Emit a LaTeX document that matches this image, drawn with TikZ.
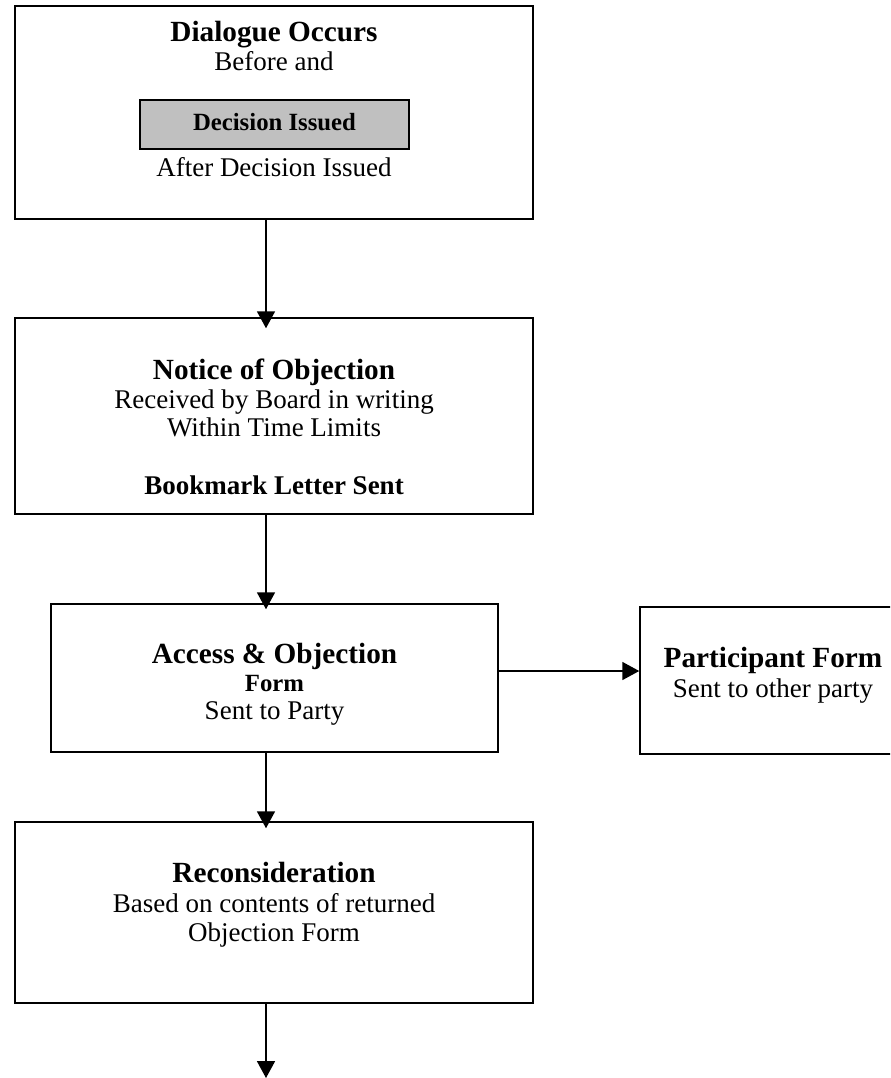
\documentclass[tikz,border=0pt]{standalone}
\usepackage{fontspec}
\setmainfont{Liberation Serif}
\usetikzlibrary{arrows.meta}
\definecolor{boxgray}{HTML}{C0C0C0}
\begin{document}
\begin{tikzpicture}[x=0.4444pt,y=-0.4444pt,
  box/.style={draw,line width=0.7pt,inner sep=0pt},
  head/.style={anchor=base,inner sep=0pt,font=\fontsize{13}{15}\selectfont\bfseries},
  body/.style={anchor=base,inner sep=0pt,font=\fontsize{12}{14}\selectfont},
  small/.style={anchor=base,inner sep=0pt,font=\fontsize{11}{13}\selectfont\bfseries},
  arr/.style={-{Triangle[length=7.5pt,width=8pt]},line width=0.6pt}]
\clip (0,0) rectangle (890,1078);
% boxes
\node[box,minimum width=230.2pt,minimum height=94.7pt] (b1) at (274,112.5) {};
\node[box,fill=boxgray,minimum width=119.6pt,minimum height=21.8pt] (g1) at (274.5,124.5) {};
\node[box,minimum width=230.2pt,minimum height=87.1pt] (b2) at (274,416) {};
\node[box,minimum width=198.7pt,minimum height=65.8pt] (b3) at (274.5,678) {};
\node[box,minimum width=118.2pt,minimum height=65.3pt] (b4) at (773,680.5) {};
\node[box,minimum width=230.2pt,minimum height=80.4pt] (b5) at (274,912.5) {};
% texts box 1
\node[head] (t11) at (274,41.7) {Dialogue Occurs};
\node[body] (t12) at (274,70) {Before and};
\node[small] (t13) at (274.5,130) {Decision Issued};
\node[body] (t14) at (274,176.7) {After Decision Issued};
% texts box 2
\node[head] (t21) at (274,379) {Notice of Objection};
\node[body] (t22) at (274,408.3) {Received by Board in writing};
\node[body] (t23) at (274,436.7) {Within Time Limits};
\node[anchor=base,inner sep=0pt,font=\fontsize{12}{14}\selectfont\bfseries] (t24) at (274,494.3) {Bookmark Letter Sent};
% texts box 3
\node[head] (t31) at (274.5,663.3) {Access \& Objection};
\node[small] (t32) at (274.5,691.7) {Form};
\node[body] (t33) at (274.5,719.3) {Sent to Party};
% texts box 4
\node[head] (t41) at (773,667.5) {Participant Form};
\node[body] (t42) at (773,697) {Sent to other party};
% texts box 5
\node[head] (t51) at (274,882.7) {Reconsideration};
\node[body] (t52) at (274,912.7) {Based on contents of returned};
\node[body] (t53) at (274,941.7) {Objection Form};
% connectors
\coordinate (ax) at (266,0);
\coordinate (hy) at (0,671);
\coordinate (endc) at (266,1078);
\draw[arr,shorten >=-4.9pt] (b1.south -| ax) -- (b2.north -| ax);
\draw[arr,shorten >=-2.7pt] (b2.south -| ax) -- (b3.north -| ax);
\draw[arr,shorten >=-3.1pt] (b3.south -| ax) -- (b5.north -| ax);
\draw[arr] (b5.south -| ax) -- (endc);
\draw[arr] (b3.east |- hy) -- (b4.west |- hy);
\end{tikzpicture}
\end{document}
